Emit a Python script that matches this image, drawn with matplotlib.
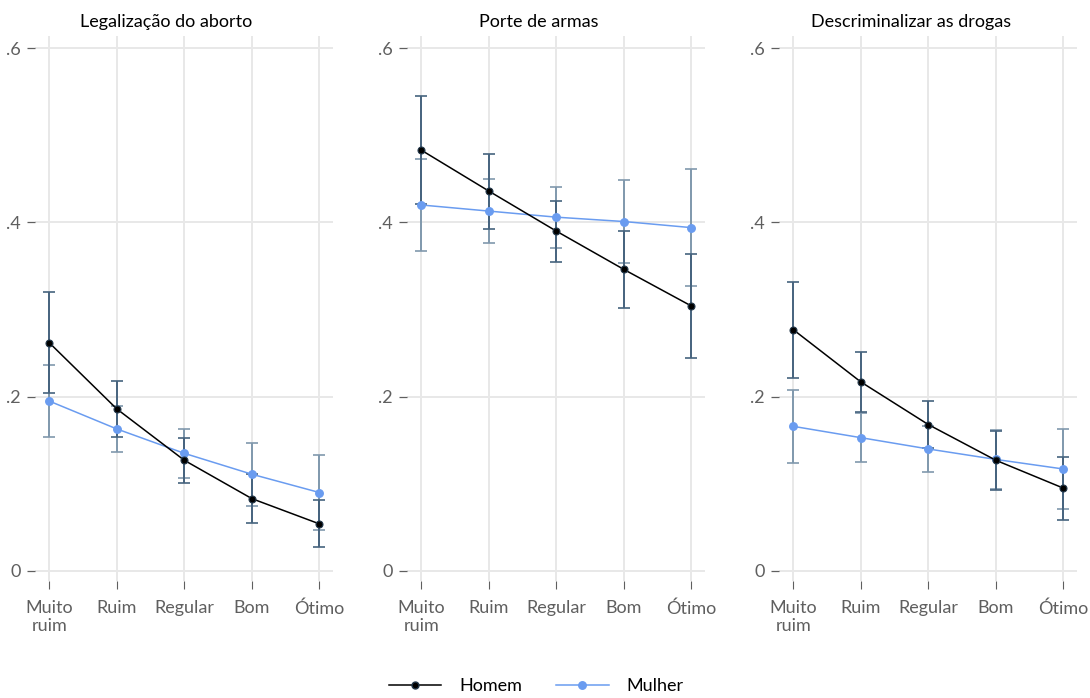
import matplotlib
matplotlib.use("Agg")
import matplotlib.pyplot as plt
from matplotlib.lines import Line2D

plt.rcParams['font.family'] = ['Lato', 'DejaVu Sans']

# categories and panel titles
categorias = ['Muito\nruim', 'Ruim', 'Regular', 'Bom', 'Ótimo']
titulos = ['Legalização do aborto', 'Porte de armas', 'Descriminalizar as drogas']

# point estimates (Homem / Mulher) per panel
homem = [
    [0.262, 0.186, 0.127, 0.083, 0.054],
    [0.483, 0.436, 0.390, 0.346, 0.304],
    [0.277, 0.217, 0.168, 0.127, 0.095],
]
mulher = [
    [0.195, 0.163, 0.135, 0.111, 0.090],
    [0.420, 0.413, 0.406, 0.401, 0.394],
    [0.166, 0.153, 0.140, 0.128, 0.117],
]
# half width of the 95% intervals
homem_ci = [
    [0.058, 0.032, 0.026, 0.028, 0.027],
    [0.062, 0.043, 0.035, 0.044, 0.060],
    [0.055, 0.034, 0.027, 0.034, 0.036],
]
mulher_ci = [
    [0.041, 0.026, 0.028, 0.036, 0.043],
    [0.053, 0.037, 0.035, 0.048, 0.067],
    [0.042, 0.028, 0.026, 0.034, 0.046],
]

yticks = [0, 0.2, 0.4, 0.6]
ytick_labels = ['0', '.2', '.4', '.6']

cor_h = 'black'
cor_m = '#6a9cf0'
err_h = '#46637e'
err_m = '#8098ad'
cinza = '#5f5f5f'

fig = plt.figure(figsize=(10.9, 6.98), dpi=100)
lefts = [35, 407, 779]
title_x = [166, 539, 911]
x = list(range(len(categorias)))

for i in range(3):
    ax = fig.add_axes([lefts[i] / 1090, 1 - 581 / 698, 298 / 1090, 545 / 698])
    ax.errorbar(x, mulher[i], yerr=mulher_ci[i], fmt='none', ecolor=err_m,
                elinewidth=1.4, capsize=4, capthick=1.2, zorder=2)
    ax.errorbar(x, homem[i], yerr=homem_ci[i], fmt='none', ecolor=err_h,
                elinewidth=1.4, capsize=4, capthick=1.2, zorder=3)
    ax.plot(x, mulher[i], color=cor_m, lw=1.1, marker='o', ms=5.4,
            mfc=cor_m, mec=cor_m, zorder=4)
    ax.plot(x, homem[i], color=cor_h, lw=1.1, marker='o', ms=5.0,
            mfc='black', mec='#23384a', mew=0.8, zorder=5)

    ax.set_xlim(-0.21, 4.2)
    ax.set_ylim(-0.0115, 0.6139)
    ax.set_xticks(x)
    ax.set_xticklabels(categorias, color=cinza, fontsize=13, linespacing=1.15)
    ax.set_yticks(yticks)
    ax.set_yticklabels(ytick_labels, color=cinza, fontsize=13)
    ax.tick_params(axis='x', colors=cinza, length=6, width=0.8, pad=8)
    ax.tick_params(axis='y', colors=cinza, length=6, width=0.9, pad=4)
    for s in ax.spines.values():
        s.set_visible(False)
    ax.grid(True, color='#e8e8e8', lw=1.4)
    ax.set_axisbelow(True)
    fig.text(title_x[i] / 1090, 1 - 27 / 698, titulos[i], fontsize=13,
             color='black', ha='center', va='baseline')

handles = [
    Line2D([], [], color=cor_h, lw=1.1, marker='o', ms=5.0, mfc='black', mec='#23384a'),
    Line2D([], [], color=cor_m, lw=1.1, marker='o', ms=5.4, mfc=cor_m, mec=cor_m),
]
fig.legend(handles, ['Homem', 'Mulher'], loc='center', bbox_to_anchor=(0.492, 0.017),
           ncol=2, frameon=False, fontsize=13, handlelength=2.9,
           handletextpad=1.0, columnspacing=1.9)

fig.savefig('out.png', dpi=100)
